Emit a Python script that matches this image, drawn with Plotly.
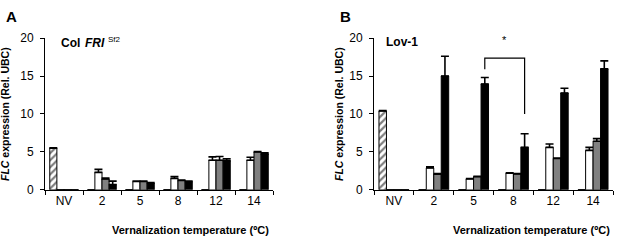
import plotly.graph_objects as go

categories = ["NV", "2", "5", "8", "12", "14"]
series_names = ["NV", "Cold 1", "Cold 2", "Cold 3"]

# Panel A: Col FRI Sf2
a_hatched = [5.5, 0, 0, 0, 0, 0]
a_hatched_err = [0.05, 0, 0, 0, 0, 0]
a_white = [0, 2.3, 1.1, 1.5, 3.9, 3.9]
a_white_err = [0, 0.4, 0.05, 0.25, 0.45, 0.4]
a_gray = [0, 1.45, 1.1, 1.25, 3.9, 5.0]
a_gray_err = [0, 0.1, 0.05, 0.05, 0.5, 0.05]
a_black = [0, 0.7, 0.9, 1.1, 3.85, 4.75]
a_black_err = [0, 0.45, 0.05, 0.05, 0.25, 0.15]

# Panel B: Lov-1
b_hatched = [10.4, 0, 0, 0, 0, 0]
b_hatched_err = [0.05, 0, 0, 0, 0, 0]
b_white = [0, 2.9, 1.45, 2.2, 5.6, 5.2]
b_white_err = [0, 0.15, 0.05, 0.05, 0.45, 0.4]
b_gray = [0, 2.05, 1.75, 2.1, 4.15, 6.4]
b_gray_err = [0, 0.1, 0.05, 0.05, 0.05, 0.35]
b_black = [0, 15.0, 13.95, 5.6, 12.75, 15.95]
b_black_err = [0, 2.6, 0.85, 1.8, 0.65, 1.05]

yticks = [0, 5, 10, 15, 20]

FONT = "Liberation Sans, Arial, Helvetica, sans-serif"
BARGAP = 0.25

fig = go.Figure()

def add_panel(hatched, hatched_err, white, white_err, gray, gray_err, black, black_err, xa, ya):
    styles = [
        (hatched, hatched_err, dict(color="white", pattern=dict(shape="/", fgcolor="black", bgcolor="white", size=5, solidity=0.45))),
        (white, white_err, dict(color="white")),
        (gray, gray_err, dict(color="#808080")),
        (black, black_err, dict(color="black")),
    ]
    for name, (vals, errs, mk) in zip(series_names, styles):
        mk["line"] = dict(color="black", width=1)
        fig.add_trace(go.Bar(
            x=categories, y=vals, name=name, marker=mk,
            error_y=dict(type="data", array=errs, arrayminus=[0] * len(errs), symmetric=False,
                         color="black", thickness=1.6, width=4),
            xaxis=xa, yaxis=ya, showlegend=False,
        ))

add_panel(a_hatched, a_hatched_err, a_white, a_white_err, a_gray, a_gray_err, a_black, a_black_err, "x", "y")
add_panel(b_hatched, b_hatched_err, b_white, b_white_err, b_gray, b_gray_err, b_black, b_black_err, "x2", "y2")

xcommon = dict(type="category", tickson="boundaries", ticks="outside", ticklen=4, tickcolor="black",
               showline=True, linecolor="black", linewidth=1, showgrid=False, zeroline=False,
               tickfont=dict(family=FONT, size=12, color="black"), range=[-0.5, 5.5], fixedrange=True)
ycommon = dict(range=[0, 20], tickvals=yticks, ticks="outside", ticklen=4, tickcolor="black",
               showline=True, linecolor="black", linewidth=1, showgrid=False, zeroline=False,
               tickfont=dict(family=FONT, size=12, color="black"), ticklabelstandoff=4, fixedrange=True)

ydom = [50 / 244, 211 / 244]
fig.update_layout(
    width=617, height=244,
    margin=dict(l=0, r=0, t=0, b=0),
    paper_bgcolor="white", plot_bgcolor="white",
    barmode="group", bargap=BARGAP, bargroupgap=0,
    xaxis=dict(domain=[45 / 617, 273 / 617], anchor="y", **xcommon),
    yaxis=dict(domain=ydom, anchor="x", **ycommon),
    xaxis2=dict(domain=[374 / 617, 613 / 617], anchor="y2", **xcommon),
    yaxis2=dict(domain=ydom, anchor="x2", **ycommon),
    font=dict(family=FONT, color="black"),
    hovermode=False,
)

def px(x):
    return x / 617

def py(y):
    return 1 - y / 244

ann = []
# panel letters
ann.append(dict(text="<b>A</b>", x=px(4), y=py(10), xanchor="left", yanchor="middle", font=dict(size=15)))
ann.append(dict(text="<b>B</b>", x=px(338), y=py(10), xanchor="left", yanchor="middle", font=dict(size=15)))
# y titles
ytitle = "<b><i>FLC</i> expression (Rel. UBC)</b>"
ann.append(dict(text=ytitle, x=px(5), y=py(113.5), textangle=-90, xanchor="center", yanchor="middle", font=dict(size=10.5)))
ann.append(dict(text=ytitle, x=px(339), y=py(113.5), textangle=-90, xanchor="center", yanchor="middle", font=dict(size=10.5)))
# x titles
xtitle = "<b>Vernalization temperature (ºC)</b>"
ann.append(dict(text=xtitle, x=px(190), y=py(236.5), xanchor="center", yanchor="middle", font=dict(size=11)))
ann.append(dict(text=xtitle, x=px(531), y=py(236.5), xanchor="center", yanchor="middle", font=dict(size=11)))
# inner labels
ann.append(dict(text="<b>Col</b>", x=px(59), y=py(38), xanchor="left", yanchor="middle", font=dict(size=12)))
ann.append(dict(text="<b><i>FRI</i></b>", x=px(83), y=py(38), xanchor="left", yanchor="middle", font=dict(size=12)))
ann.append(dict(text="Sf2", x=px(106), y=py(35), xanchor="left", yanchor="middle", font=dict(size=8)))
ann.append(dict(text="<b>Lov-1</b>", x=px(384), y=py(37), xanchor="left", yanchor="middle", font=dict(size=12)))

# significance bracket between black bars at 5 and 8 (panel B)
black_off = 0.375 * (1 - BARGAP)
xl = categories.index("5") + black_off
xr = categories.index("8") + black_off
y_top, y_left, y_right = 17.35, 15.9, 10.0
fig.add_shape(type="path", xref="x2", yref="y2",
              path=f"M {xl},{y_left} L {xl},{y_top} L {xr},{y_top} L {xr},{y_right}",
              line=dict(color="black", width=1.2))
ann.append(dict(text="*", x=(xl + xr) / 2, y=19.7, xref="x2", yref="y2", xanchor="center", yanchor="middle",
                font=dict(size=11)))

for a in ann:
    a.setdefault("xref", "paper")
    a.setdefault("yref", "paper")
    a["showarrow"] = False
    f = a.get("font", {})
    f.setdefault("family", FONT)
    f.setdefault("color", "black")
    a["font"] = f
fig.update_layout(annotations=ann)

fig.write_html("out.html", config={"displayModeBar": False, "staticPlot": True},
               post_script="document.body.style.margin='0';document.body.style.overflow='hidden';")
